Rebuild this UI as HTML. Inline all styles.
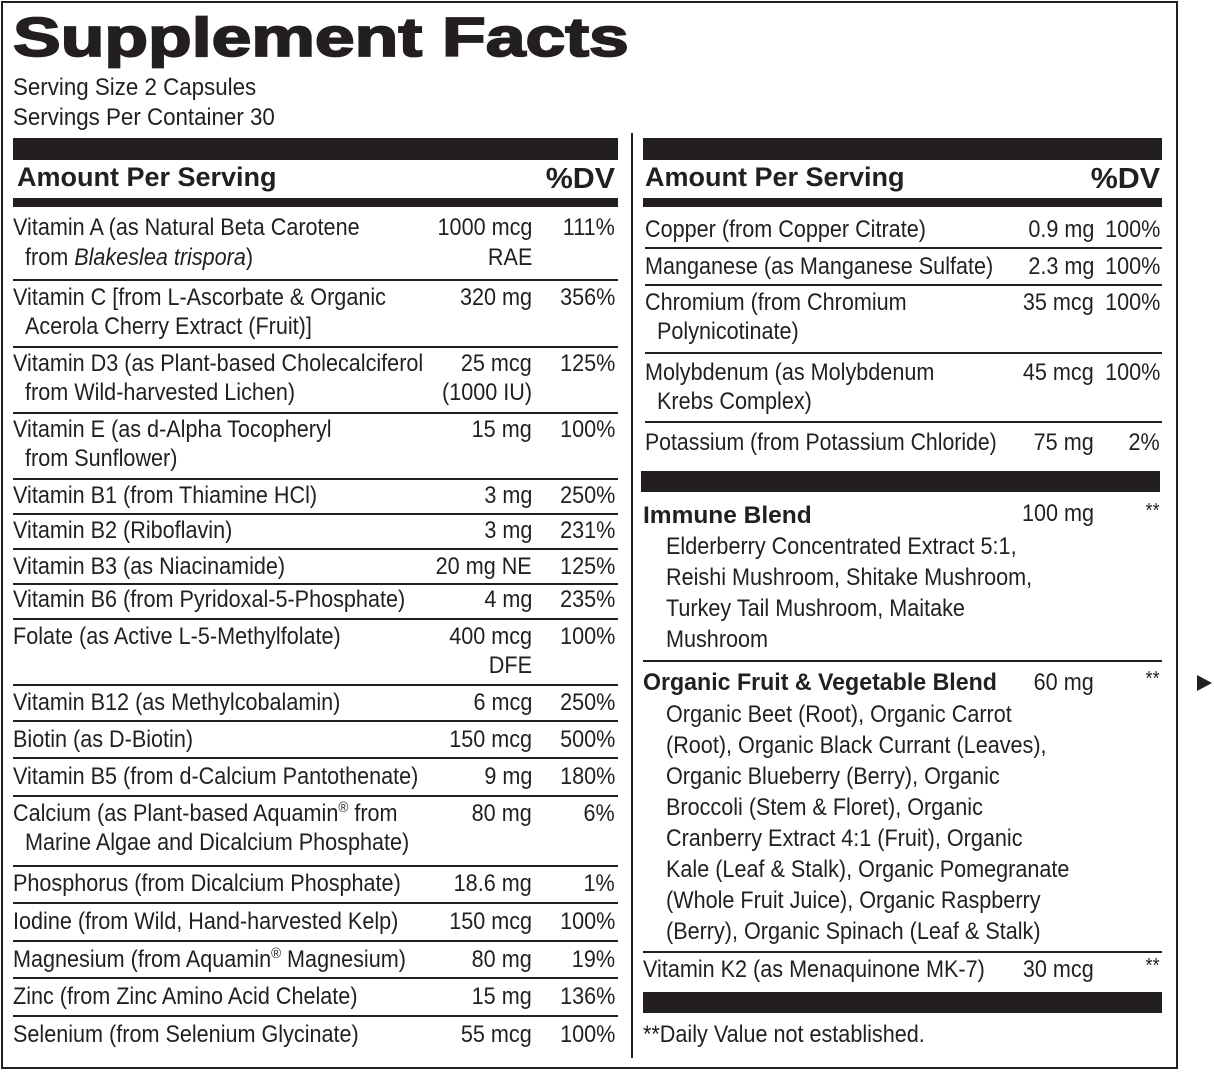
<!DOCTYPE html>
<html><head><meta charset="utf-8">
<style>
*{margin:0;padding:0;box-sizing:border-box}
html,body{width:1214px;height:1072px;background:#fff;overflow:hidden}
body{position:relative;font-family:"Liberation Sans",Arial,sans-serif;color:#231f20}
.b{position:absolute;background:#231f20}
.t{position:absolute;font-size:24px;line-height:28px;white-space:nowrap;transform:scaleX(.9);transform-origin:left center}
.r{position:absolute;font-size:24px;line-height:28px;white-space:nowrap;transform:scaleX(.9);transform-origin:right center;text-align:right}
.h{font-weight:bold;font-size:27px;transform:none}
.dv{font-size:29px;transform:scaleX(1.05)}
.bb{font-weight:bold;transform:scaleX(1.02)}
.s{font-size:15px;line-height:0;position:relative;top:-9px;vertical-align:baseline}
.st{font-size:20px}
</style></head><body>
<!-- frame -->
<div class="b" style="left:1px;top:1px;width:1177px;height:2px"></div>
<div class="b" style="left:1px;top:1px;width:2px;height:1068px"></div>
<div class="b" style="left:1176px;top:1px;width:2px;height:1068px"></div>
<div class="b" style="left:1px;top:1067px;width:1177px;height:2px"></div>
<div class="b" style="left:631px;top:133px;width:2px;height:925px"></div>

<div style="position:absolute;left:13px;top:-3px;font-size:55px;line-height:80px;font-weight:bold;white-space:nowrap;transform:scaleX(1.3);transform-origin:left center;-webkit-text-stroke:1.8px #231f20;color:#231f20">Supplement Facts</div>
<div class="t" style="left:13px;top:74px;transform:scaleX(.93)">Serving Size 2 Capsules</div>
<div class="t" style="left:13px;top:104px;transform:scaleX(.93)">Servings Per Container 30</div>

<!-- left column -->
<div class="b" style="left:13px;top:138px;width:605px;height:22px"></div>
<div class="t h" style="left:17px;top:163px">Amount Per Serving</div>
<div class="r h dv" style="right:599px;top:165px">%DV</div>
<div class="b" style="left:13px;top:198px;width:605px;height:9px"></div>

<div class="t" style="left:13px;top:214px">Vitamin A (as Natural Beta Carotene</div>
<div class="t" style="left:25px;top:244px">from <i>Blakeslea trispora</i>)</div>
<div class="r" style="right:682px;top:214px">1000 mcg</div><div class="r" style="right:682px;top:244px">RAE</div>
<div class="r" style="right:599px;top:214px">111%</div>
<div class="b" style="left:13px;top:279px;width:605px;height:1.5px"></div>

<div class="t" style="left:13px;top:284px">Vitamin C [from L-Ascorbate &amp; Organic</div>
<div class="t" style="left:25px;top:313px">Acerola Cherry Extract (Fruit)]</div>
<div class="r" style="right:682px;top:284px">320 mg</div><div class="r" style="right:599px;top:284px">356%</div>
<div class="b" style="left:13px;top:346px;width:605px;height:1.5px"></div>

<div class="t" style="left:13px;top:350px">Vitamin D3 (as Plant-based Cholecalciferol</div>
<div class="t" style="left:25px;top:379px">from Wild-harvested Lichen)</div>
<div class="r" style="right:682px;top:350px">25 mcg</div><div class="r" style="right:682px;top:379px">(1000 IU)</div>
<div class="r" style="right:599px;top:350px">125%</div>
<div class="b" style="left:13px;top:412px;width:605px;height:1.5px"></div>

<div class="t" style="left:13px;top:416px">Vitamin E (as d-Alpha Tocopheryl</div>
<div class="t" style="left:25px;top:445px">from Sunflower)</div>
<div class="r" style="right:682px;top:416px">15 mg</div><div class="r" style="right:599px;top:416px">100%</div>
<div class="b" style="left:13px;top:478px;width:605px;height:1.5px"></div>

<div class="t" style="left:13px;top:482px">Vitamin B1 (from Thiamine HCl)</div>
<div class="r" style="right:682px;top:482px">3 mg</div><div class="r" style="right:599px;top:482px">250%</div>
<div class="b" style="left:13px;top:513px;width:605px;height:1.5px"></div>

<div class="t" style="left:13px;top:517px">Vitamin B2 (Riboflavin)</div>
<div class="r" style="right:682px;top:517px">3 mg</div><div class="r" style="right:599px;top:517px">231%</div>
<div class="b" style="left:13px;top:548px;width:605px;height:1.5px"></div>

<div class="t" style="left:13px;top:553px">Vitamin B3 (as Niacinamide)</div>
<div class="r" style="right:682px;top:553px">20 mg NE</div><div class="r" style="right:599px;top:553px">125%</div>
<div class="b" style="left:13px;top:583px;width:605px;height:1.5px"></div>

<div class="t" style="left:13px;top:586px">Vitamin B6 (from Pyridoxal-5-Phosphate)</div>
<div class="r" style="right:682px;top:586px">4 mg</div><div class="r" style="right:599px;top:586px">235%</div>
<div class="b" style="left:13px;top:618px;width:605px;height:1.5px"></div>

<div class="t" style="left:13px;top:623px">Folate (as Active L-5-Methylfolate)</div>
<div class="r" style="right:682px;top:623px">400 mcg</div><div class="r" style="right:682px;top:652px">DFE</div>
<div class="r" style="right:599px;top:623px">100%</div>
<div class="b" style="left:13px;top:684px;width:605px;height:1.5px"></div>

<div class="t" style="left:13px;top:689px">Vitamin B12 (as Methylcobalamin)</div>
<div class="r" style="right:682px;top:689px">6 mcg</div><div class="r" style="right:599px;top:689px">250%</div>
<div class="b" style="left:13px;top:720px;width:605px;height:1.5px"></div>

<div class="t" style="left:13px;top:726px">Biotin (as D-Biotin)</div>
<div class="r" style="right:682px;top:726px">150 mcg</div><div class="r" style="right:599px;top:726px">500%</div>
<div class="b" style="left:13px;top:757px;width:605px;height:1.5px"></div>

<div class="t" style="left:13px;top:763px">Vitamin B5 (from d-Calcium Pantothenate)</div>
<div class="r" style="right:682px;top:763px">9 mg</div><div class="r" style="right:599px;top:763px">180%</div>
<div class="b" style="left:13px;top:795px;width:605px;height:1.5px"></div>

<div class="t" style="left:13px;top:800px">Calcium (as Plant-based Aquamin<span class="s">®</span> from</div>
<div class="t" style="left:25px;top:829px">Marine Algae and Dicalcium Phosphate)</div>
<div class="r" style="right:682px;top:800px">80 mg</div><div class="r" style="right:599px;top:800px">6%</div>
<div class="b" style="left:13px;top:865px;width:605px;height:1.5px"></div>

<div class="t" style="left:13px;top:870px">Phosphorus (from Dicalcium Phosphate)</div>
<div class="r" style="right:682px;top:870px">18.6 mg</div><div class="r" style="right:599px;top:870px">1%</div>
<div class="b" style="left:13px;top:902px;width:605px;height:1.5px"></div>

<div class="t" style="left:13px;top:908px">Iodine (from Wild, Hand-harvested Kelp)</div>
<div class="r" style="right:682px;top:908px">150 mcg</div><div class="r" style="right:599px;top:908px">100%</div>
<div class="b" style="left:13px;top:940px;width:605px;height:1.5px"></div>

<div class="t" style="left:13px;top:946px">Magnesium (from Aquamin<span class="s">®</span> Magnesium)</div>
<div class="r" style="right:682px;top:946px">80 mg</div><div class="r" style="right:599px;top:946px">19%</div>
<div class="b" style="left:13px;top:977px;width:605px;height:1.5px"></div>

<div class="t" style="left:13px;top:983px">Zinc (from Zinc Amino Acid Chelate)</div>
<div class="r" style="right:682px;top:983px">15 mg</div><div class="r" style="right:599px;top:983px">136%</div>
<div class="b" style="left:13px;top:1015px;width:605px;height:1.5px"></div>

<div class="t" style="left:13px;top:1021px">Selenium (from Selenium Glycinate)</div>
<div class="r" style="right:682px;top:1021px">55 mcg</div><div class="r" style="right:599px;top:1021px">100%</div>

<!-- right column -->
<div class="b" style="left:643px;top:138px;width:519px;height:22px"></div>
<div class="t h" style="left:645px;top:163px">Amount Per Serving</div>
<div class="r h dv" style="right:54px;top:165px">%DV</div>
<div class="b" style="left:643px;top:198px;width:519px;height:9px"></div>

<div class="t" style="left:645px;top:216px">Copper (from Copper Citrate)</div>
<div class="r" style="right:120px;top:216px">0.9 mg</div><div class="r" style="right:54px;top:216px">100%</div>
<div class="b" style="left:645px;top:247px;width:517px;height:1.5px"></div>

<div class="t" style="left:645px;top:253px">Manganese (as Manganese Sulfate)</div>
<div class="r" style="right:120px;top:253px">2.3 mg</div><div class="r" style="right:54px;top:253px">100%</div>
<div class="b" style="left:645px;top:284px;width:517px;height:1.5px"></div>

<div class="t" style="left:645px;top:289px">Chromium (from Chromium</div>
<div class="t" style="left:657px;top:318px">Polynicotinate)</div>
<div class="r" style="right:120px;top:289px">35 mcg</div><div class="r" style="right:54px;top:289px">100%</div>
<div class="b" style="left:645px;top:352px;width:517px;height:1.5px"></div>

<div class="t" style="left:645px;top:359px">Molybdenum (as Molybdenum</div>
<div class="t" style="left:657px;top:388px">Krebs Complex)</div>
<div class="r" style="right:120px;top:359px">45 mcg</div><div class="r" style="right:54px;top:359px">100%</div>
<div class="b" style="left:645px;top:421px;width:517px;height:1.5px"></div>

<div class="t" style="left:645px;top:429px;transform:scaleX(.885)">Potassium (from Potassium Chloride)</div>
<div class="r" style="right:120px;top:429px">75 mg</div><div class="r" style="right:54px;top:429px">2%</div>

<div class="b" style="left:641px;top:471px;width:519px;height:21px"></div>

<div class="t bb" style="left:643px;top:502px">Immune Blend</div>
<div class="r" style="right:120px;top:500px">100 mg</div>
<div class="r st" style="right:54px;top:497px">**</div>
<div class="t" style="left:666px;top:533px">Elderberry Concentrated Extract 5:1,</div>
<div class="t" style="left:666px;top:564px">Reishi Mushroom, Shitake Mushroom,</div>
<div class="t" style="left:666px;top:595px">Turkey Tail Mushroom, Maitake</div>
<div class="t" style="left:666px;top:626px">Mushroom</div>
<div class="b" style="left:643px;top:660px;width:519px;height:1.5px"></div>

<div class="t bb" style="left:643px;top:669px;transform:scaleX(.965)">Organic Fruit &amp; Vegetable Blend</div>
<div class="r" style="right:120px;top:669px">60 mg</div>
<div class="r st" style="right:54px;top:665px">**</div>
<div class="t" style="left:666px;top:701px">Organic Beet (Root), Organic Carrot</div>
<div class="t" style="left:666px;top:732px">(Root), Organic Black Currant (Leaves),</div>
<div class="t" style="left:666px;top:763px">Organic Blueberry (Berry), Organic</div>
<div class="t" style="left:666px;top:794px">Broccoli (Stem &amp; Floret), Organic</div>
<div class="t" style="left:666px;top:825px">Cranberry Extract 4:1 (Fruit), Organic</div>
<div class="t" style="left:666px;top:856px">Kale (Leaf &amp; Stalk), Organic Pomegranate</div>
<div class="t" style="left:666px;top:887px">(Whole Fruit Juice), Organic Raspberry</div>
<div class="t" style="left:666px;top:918px">(Berry), Organic Spinach (Leaf &amp; Stalk)</div>
<div class="b" style="left:643px;top:951px;width:519px;height:1.5px"></div>

<div class="t" style="left:643px;top:956px">Vitamin K2 (as Menaquinone MK-7)</div>
<div class="r" style="right:120px;top:956px">30 mcg</div>
<div class="r st" style="right:54px;top:952px">**</div>

<div class="b" style="left:643px;top:992px;width:519px;height:21px"></div>
<div class="t" style="left:643px;top:1021px">**Daily Value not established.</div>

<div style="position:absolute;left:1197px;top:675px;width:0;height:0;border-top:8px solid transparent;border-bottom:8px solid transparent;border-left:15px solid #231f20"></div>
</body></html>
